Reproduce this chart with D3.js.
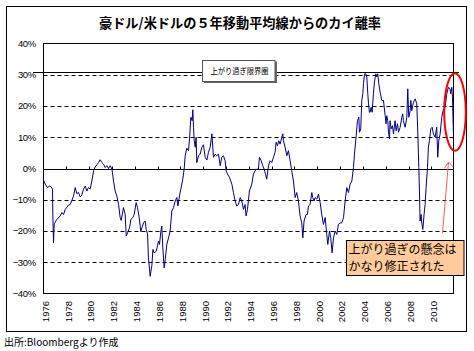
<!DOCTYPE html>
<html>
<head>
<meta charset="utf-8">
<script src="https://cdn.jsdelivr.net/npm/d3@7"></script>
<style>
  body { margin: 0; background: #fff; }
  text { font-family: "Liberation Sans", Arial, sans-serif; }
  .jp { font-family: "Noto Sans CJK JP", sans-serif; }
</style>
</head>
<body>
<div id="chart"></div>
<script>
// AUD/USD deviation from 5 year moving average (%)
const years = [
  1976.00, 1976.15, 1976.35, 1976.53, 1976.67, 1976.79, 1976.82, 1976.88, 1976.94, 1977.17,
  1977.46, 1977.61, 1977.76, 1977.90, 1978.19, 1978.34, 1978.49, 1978.63, 1978.78, 1978.92,
  1979.07, 1979.22, 1979.36, 1979.51, 1979.66, 1979.80, 1979.95, 1980.09, 1980.24, 1980.39,
  1980.53, 1980.68, 1980.82, 1980.97, 1981.12, 1981.26, 1981.41, 1981.56, 1981.70, 1981.85,
  1982.00, 1982.14, 1982.28, 1982.43, 1982.58, 1982.72, 1982.81, 1982.96, 1983.01, 1983.16,
  1983.25, 1983.37, 1983.54, 1983.66, 1983.83, 1983.95, 1984.12, 1984.24, 1984.39, 1984.53,
  1984.62, 1984.77, 1984.91, 1985.00, 1985.12, 1985.20, 1985.35, 1985.50, 1985.59, 1985.70,
  1985.88, 1986.08, 1986.17, 1986.29, 1986.37, 1986.46, 1986.58, 1986.67, 1986.81, 1986.96,
  1987.10, 1987.25, 1987.40, 1987.54, 1987.69, 1987.78, 1987.92, 1988.04, 1988.21, 1988.33,
  1988.42, 1988.56, 1988.71, 1988.80, 1988.92, 1989.03, 1989.09, 1989.15, 1989.21, 1989.30,
  1989.38, 1989.44, 1989.59, 1989.73, 1989.88, 1990.02, 1990.17, 1990.32, 1990.46, 1990.61,
  1990.76, 1990.90, 1991.05, 1991.19, 1991.34, 1991.49, 1991.63, 1991.77, 1991.92, 1992.01,
  1992.13, 1992.30, 1992.51, 1992.65, 1992.80, 1992.94, 1993.09, 1993.24, 1993.38, 1993.53,
  1993.67, 1993.76, 1993.88, 1994.05, 1994.26, 1994.40, 1994.55, 1994.70, 1994.84, 1994.93,
  1995.08, 1995.22, 1995.34, 1995.46, 1995.57, 1995.72, 1995.86, 1996.01, 1996.16, 1996.30,
  1996.39, 1996.51, 1996.62, 1996.74, 1996.89, 1996.98, 1997.03, 1997.18, 1997.33, 1997.47,
  1997.62, 1997.76, 1997.91, 1998.06, 1998.20, 1998.35, 1998.49, 1998.64, 1998.73, 1998.84,
  1999.02, 1999.14, 1999.22, 1999.37, 1999.52, 1999.60, 1999.72, 1999.81, 1999.96, 2000.10,
  2000.25, 2000.39, 2000.54, 2000.69, 2000.83, 2000.92, 2001.07, 2001.18, 2001.30, 2001.42,
  2001.56, 2001.71, 2001.85, 2002.00, 2002.15, 2002.30, 2002.44, 2002.59, 2002.73, 2002.88,
  2003.03, 2003.17, 2003.26, 2003.41, 2003.52, 2003.64, 2003.70, 2003.81, 2003.90, 2003.99,
  2004.05, 2004.14, 2004.25, 2004.34, 2004.43, 2004.49, 2004.57, 2004.63, 2004.72, 2004.81,
  2004.92, 2005.01, 2005.13, 2005.22, 2005.30, 2005.39, 2005.51, 2005.65, 2005.80, 2005.95,
  2006.03, 2006.09, 2006.18, 2006.24, 2006.33, 2006.38, 2006.47, 2006.59, 2006.68, 2006.82,
  2006.91, 2007.03, 2007.12, 2007.26, 2007.41, 2007.49, 2007.55, 2007.70, 2007.85, 2007.93,
  2008.02, 2008.14, 2008.20, 2008.28, 2008.43, 2008.58, 2008.72, 2008.81, 2008.90, 2008.96,
  2009.01, 2009.10, 2009.16, 2009.25, 2009.36, 2009.45, 2009.54, 2009.66, 2009.74, 2009.83,
  2009.95, 2010.07, 2010.18, 2010.33, 2010.47, 2010.56, 2010.65, 2010.77, 2010.91, 2011.06,
  2011.21, 2011.35, 2011.50, 2011.64, 2011.70, 2011.79, 2011.85, 2011.94
];
const rates = [
  -3.7, -5.0, -6.1, -5.6, -5.9, -6.6, -15.2, -23.8, -17.7, -16.3,
  -15.2, -14.1, -14.7, -13.1, -11.7, -11.5, -10.2, -8.8, -6.1, -8.0,
  -7.7, -9.1, -8.5, -6.6, -5.6, -7.2, -6.1, -6.6, -4.0, -0.7,
  0.5, 1.2, 1.9, 2.8, 1.9, 1.4, 0.3, 0.9, 0.0, 0.9,
  -0.2, -4.0, -7.2, -8.8, -11.5, -15.7, -16.6, -13.6, -12.5, -14.7,
  -21.6, -20.6, -19.0, -16.3, -15.7, -14.7, -10.9, -12.5, -15.7, -20.2,
  -19.0, -17.4, -16.8, -19.5, -20.9, -28.6, -34.5, -31.0, -25.9, -27.0,
  -26.5, -23.2, -24.3, -20.0, -18.4, -25.4, -31.8, -29.1, -24.3, -22.2,
  -20.0, -13.6, -12.5, -10.4, -9.3, -12.0, -8.8, -6.6, -3.4, -0.2,
  4.1, 6.5, 5.7, 9.5, 16.4, 15.3, 18.8, 13.2, 8.9, 6.8,
  10.0, 1.9, 4.1, 4.6, 6.8, 7.6, 3.6, 2.7, 5.2, 6.8,
  11.1, 3.6, 4.6, 4.1, 4.6, 0.9, 3.6, 4.1, 2.5, -0.7,
  -1.8, -2.8, -5.0, -7.7, -10.4, -12.0, -11.5, -9.3, -10.4, -13.1,
  -11.5, -15.2, -13.1, -7.2, -5.0, -1.8, -0.7, -0.2, -0.2, 3.6,
  2.5, 0.9, -0.2, -1.8, -3.4, 0.9, 2.5, 1.9, 3.6, 5.2,
  8.4, 7.3, 8.9, 7.8, 10.0, 11.1, 8.9, 6.8, 4.1, 5.7,
  2.5, -0.7, -4.0, -9.3, -7.7, -10.4, -15.2, -17.4, -22.2, -16.8,
  -14.7, -14.7, -12.0, -11.5, -7.7, -9.3, -10.4, -9.3, -9.8, -8.2,
  -10.9, -14.7, -17.9, -15.7, -21.1, -24.3, -20.0, -22.2, -27.0, -22.2,
  -20.0, -21.1, -17.9, -17.4, -17.4, -15.7, -10.4, -6.1, -7.7, -5.0,
  -4.0, 0.3, 4.6, 10.5, 15.3, 16.4, 11.6, 12.7, 21.8, 23.9,
  27.2, 30.3, 30.3, 29.3, 23.9, 20.7, 18.0, 18.0, 19.6, 18.0,
  23.9, 27.7, 30.3, 29.3, 30.3, 27.2, 24.4, 21.8, 21.8, 16.9,
  14.3, 16.9, 15.3, 11.6, 9.5, 15.3, 12.7, 13.7, 11.1, 15.3,
  12.1, 14.3, 11.6, 13.2, 16.4, 17.5, 15.3, 13.2, 16.4, 25.5,
  16.4, 18.5, 21.8, 18.5, 21.2, 22.3, 20.7, 11.6, 0.3, -8.2,
  -16.8, -14.7, -17.4, -19.5, -14.7, -11.5, -6.1, 0.3, 6.8, 8.9,
  12.7, 13.2, 11.1, 10.0, 13.2, 3.6, 8.9, 11.1, 16.4, 19.1,
  19.6, 23.9, 26.0, 25.5, 23.9, 26.0, 22.8, 10.0
];
const yTicks = [40, 30, 20, 10, 0, -10, -20, -30, -40];
const xTickYears = d3.range(1976, 2011, 2);

const width = 474, height = 351;
const plotL = 43.5, plotR = 453.5, plotT = 43.5, plotB = 293.5;

const data = years.map((yr, i) => ({year: yr, rate: rates[i]}));

const svg = d3.select("#chart")
  .append("svg")
  .attr("width", width)
  .attr("height", height);

const x = d3.scaleLinear().domain([1976, 2011.94]).range([plotL, plotR]);
const y = d3.scaleLinear().domain([-40, 40]).range([plotB, plotT]);

// outer frame
svg.append("rect")
  .attr("x", 6.5).attr("y", 6.5)
  .attr("width", 460).attr("height", 325)
  .attr("fill", "#fff").attr("stroke", "#000");

// title
svg.append("text")
  .attr("class", "jp")
  .attr("x", 240).attr("y", 28)
  .attr("text-anchor", "middle")
  .attr("font-size", 13.2)
  .attr("font-weight", "bold")
  .text("豪ドル/米ドルの５年移動平均線からのカイ離率");

// dashed grid
svg.selectAll(".grid")
  .data(yTicks.filter(d => d !== 0 && Math.abs(d) !== 40))
  .enter().append("line")
  .attr("class", "grid")
  .attr("x1", plotL).attr("x2", plotR)
  .attr("y1", d => Math.round(y(d)) + 0.5)
  .attr("y2", d => Math.round(y(d)) + 0.5)
  .attr("stroke", "#000")
  .attr("stroke-dasharray", "4,3");

// zero line with year ticks
const y0 = Math.round(y(0)) + 0.5;
svg.append("line")
  .attr("x1", plotL).attr("x2", plotR)
  .attr("y1", y0).attr("y2", y0)
  .attr("stroke", "#000");
svg.selectAll(".tick0")
  .data(xTickYears.slice(1))
  .enter().append("line")
  .attr("class", "tick0")
  .attr("x1", d => Math.round(x(d)) + 0.5)
  .attr("x2", d => Math.round(x(d)) + 0.5)
  .attr("y1", y0 - 3).attr("y2", y0)
  .attr("stroke", "#000");

// plot border
svg.append("rect")
  .attr("x", plotL).attr("y", plotT)
  .attr("width", plotR - plotL).attr("height", plotB - plotT)
  .attr("fill", "none").attr("stroke", "#000");

// y labels
svg.selectAll(".ylab")
  .data(yTicks)
  .enter().append("text")
  .attr("class", "ylab")
  .attr("x", 36)
  .attr("y", d => y(d))
  .attr("dy", "0.35em")
  .attr("text-anchor", "end")
  .attr("font-size", 9.5)
  .attr("letter-spacing", -0.3)
  .text(d => (d < 0 ? "\u2212" + (-d) : d) + "%");

// x labels (rotated)
svg.selectAll(".xlab")
  .data(xTickYears)
  .enter().append("text")
  .attr("class", "xlab")
  .attr("transform", d => `translate(${x(d) + 1.8},301) rotate(-90)`)
  .attr("text-anchor", "end")
  .attr("dominant-baseline", "central")
  .attr("font-size", 9.5)
  .text(d => d);

// 30% limit line
const yLim = Math.round(y(30)) - 3 + 0.5;
svg.append("line")
  .attr("x1", 33).attr("x2", 459)
  .attr("y1", yLim).attr("y2", yLim)
  .attr("stroke", "#000");

// series
const line = d3.line()
  .x(d => x(d.year))
  .y(d => y(d.rate));

svg.append("path")
  .datum(data)
  .attr("d", line)
  .attr("fill", "none")
  .attr("stroke", "#000080")
  .attr("stroke-width", 1);

// "上がり過ぎ限界圏" label box
svg.append("rect")
  .attr("x", 204).attr("y", 61.5)
  .attr("width", 73).attr("height", 21.5)
  .attr("fill", "#666");
svg.append("rect")
  .attr("x", 202.5).attr("y", 60.5)
  .attr("width", 72.5).attr("height", 21)
  .attr("fill", "#fff").attr("stroke", "#555");
svg.append("text")
  .attr("class", "jp")
  .attr("x", 210.5).attr("y", 71)
  .attr("dy", "0.36em")
  .attr("font-size", 8.5)
  .attr("textLength", 58)
  .attr("lengthAdjust", "spacingAndGlyphs")
  .text("上がり過ぎ限界圏");

// red ellipse + arrow
svg.append("ellipse")
  .attr("cx", 455).attr("cy", 112)
  .attr("rx", 10.8).attr("ry", 38.8)
  .attr("fill", "none")
  .attr("stroke", "#ff0000")
  .attr("stroke-width", 2);

svg.append("line")
  .attr("x1", 442.5).attr("y1", 233)
  .attr("x2", 448.5).attr("y2", 162)
  .attr("stroke", "#ff5a5a");
svg.append("path")
  .attr("d", "M444.3,168.5 L448.5,162 L453.3,167")
  .attr("fill", "none")
  .attr("stroke", "#ff5a5a");

// comment box
svg.append("rect")
  .attr("x", 346.5).attr("y", 240.5)
  .attr("width", 117.5).attr("height", 35)
  .attr("fill", "#ffcc99").attr("stroke", "#000");
svg.selectAll(".note")
  .data(["上がり過ぎの懸念は", "かなり修正された"])
  .enter().append("text")
  .attr("class", "jp note")
  .attr("x", 348.5)
  .attr("y", (d, i) => 249.5 + i * 17)
  .attr("dy", "0.36em")
  .attr("font-size", 12)
  .text(d => d);

// source
svg.append("text")
  .attr("class", "jp")
  .attr("x", 4).attr("y", 342)
  .attr("dy", "0.36em")
  .attr("font-size", 10)
  .text("出所:Bloombergより作成");
</script>
</body>
</html>
